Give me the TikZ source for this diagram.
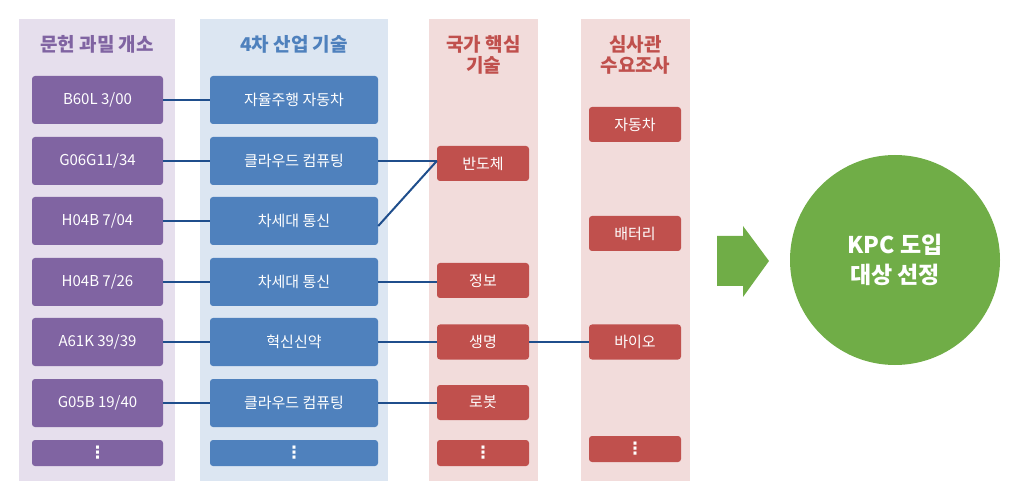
\documentclass[tikz,border=0pt]{standalone}
\usepackage{fontspec}
\setmainfont{Noto Sans CJK KR}
\newfontfamily\dejavu{DejaVu Sans}
\begin{document}
\begin{tikzpicture}[x=1pt,y=-1pt,
  font=\fontsize{15}{17}\selectfont,
  bx/.style={rounded corners=3pt, text=white, inner sep=0pt, draw=none},
  pbox/.style={bx, fill=purpleBox, minimum width=131, minimum height=48},
  bbox/.style={bx, fill=blueBox, minimum width=168, minimum height=48},
  rbox/.style={bx, fill=redBox, minimum width=92, minimum height=35},
  dotbox/.style={minimum height=26, font=\dejavu\bfseries\fontsize{17}{18}\selectfont},
  hdr/.style={font=\fontsize{19}{21}\selectfont\bfseries, align=center},
  link/.style={draw=linkBlue, line width=2}
]
\definecolor{purpleBg}{HTML}{E6DFED}
\definecolor{blueBg}{HTML}{DCE6F2}
\definecolor{redBg}{HTML}{F2DCDB}
\definecolor{purpleBox}{HTML}{8064A2}
\definecolor{blueBox}{HTML}{4F81BD}
\definecolor{redBox}{HTML}{C0504D}
\definecolor{greenC}{HTML}{70AD47}
\definecolor{linkBlue}{HTML}{1F4E8C}
\useasboundingbox (0,0) rectangle (1020,494);
% panels
\fill[purpleBg] (19,19) rectangle (175,481);
\fill[blueBg] (200,19) rectangle (388,481);
\fill[redBg] (429,19) rectangle (538,481);
\fill[redBg] (581,19) rectangle (690,481);
% headers
\node[hdr, text=purpleBox] (h1) at (97,44) {문헌 과밀 개소};
\node[hdr, text=blueBox] (h2) at (294,44) {4차 산업 기술};
\node[hdr, text=redBox] (h3) at (483.5,54.5) {국가 핵심\\기술};
\node[hdr, text=redBox] (h4) at (635.5,54.5) {심사관\\수요조사};
% purple boxes
\node[pbox] (p1) at (97.5,100) {B60L 3/00};
\node[pbox] (p2) at (97.5,161) {G06G11/34};
\node[pbox] (p3) at (97.5,221) {H04B 7/04};
\node[pbox] (p4) at (97.5,282) {H04B 7/26};
\node[pbox] (p5) at (97.5,342) {A61K 39/39};
\node[pbox] (p6) at (97.5,403) {G05B 19/40};
\node[pbox, dotbox] (p7) at (97.5,453) {⋮};
% blue boxes
\node[bbox] (b1) at (294,100) {자율주행 자동차};
\node[bbox] (b2) at (294,161) {클라우드 컴퓨팅};
\node[bbox] (b3) at (294,221) {차세대 통신};
\node[bbox] (b4) at (294,282) {차세대 통신};
\node[bbox] (b5) at (294,342) {혁신신약};
\node[bbox] (b6) at (294,403) {클라우드 컴퓨팅};
\node[bbox, dotbox] (b7) at (294,453) {⋮};
% red column 1
\node[rbox] (r1) at (483,163.5) {반도체};
\node[rbox] (r2) at (483,280.5) {정보};
\node[rbox] (r3) at (483,342) {생명};
\node[rbox] (r4) at (483,402.5) {로봇};
\node[rbox, dotbox] (r5) at (483,453) {⋮};
% red column 2
\node[rbox] (s1) at (635,124.5) {자동차};
\node[rbox] (s2) at (635,233.5) {배터리};
\node[rbox] (s3) at (635,342) {바이오};
\node[rbox, dotbox] (s4) at (635,449) {⋮};
% links
\draw[link] (p1.east) -- (b1.west);
\draw[link] (p2.east) -- (b2.west);
\draw[link] (p3.east) -- (b3.west);
\draw[link] (p4.east) -- (b4.west);
\draw[link] (p5.east) -- (b5.west);
\draw[link] (p6.east) -- (b6.west);
\coordinate (r1in) at (b2.east -| r1.west);
\coordinate (b3out) at ([yshift=-5]b3.east);
\draw[link] (b2.east) -- (r1in);
\draw[link] (b3out) -- (r1in);
\draw[link] (b4.east) -- (b4.east -| r2.west);
\draw[link] (b5.east) -- (r3.west);
\draw[link] (r3.east) -- (s3.west);
\draw[link] (b6.east) -- (b6.east -| r4.west);
% arrow
\fill[greenC] (717,236) -- (743,236) -- (743,226) -- (769,261) -- (743,297) -- (743,286) -- (717,286) -- cycle;
% circle
\node[circle, fill=greenC, minimum size=210, inner sep=0pt, text=white, align=center,
  font=\fontsize{23}{30}\selectfont\bfseries] (c) at (895,260) {KPC 도입\\대상 선정};
\end{tikzpicture}
\end{document}
